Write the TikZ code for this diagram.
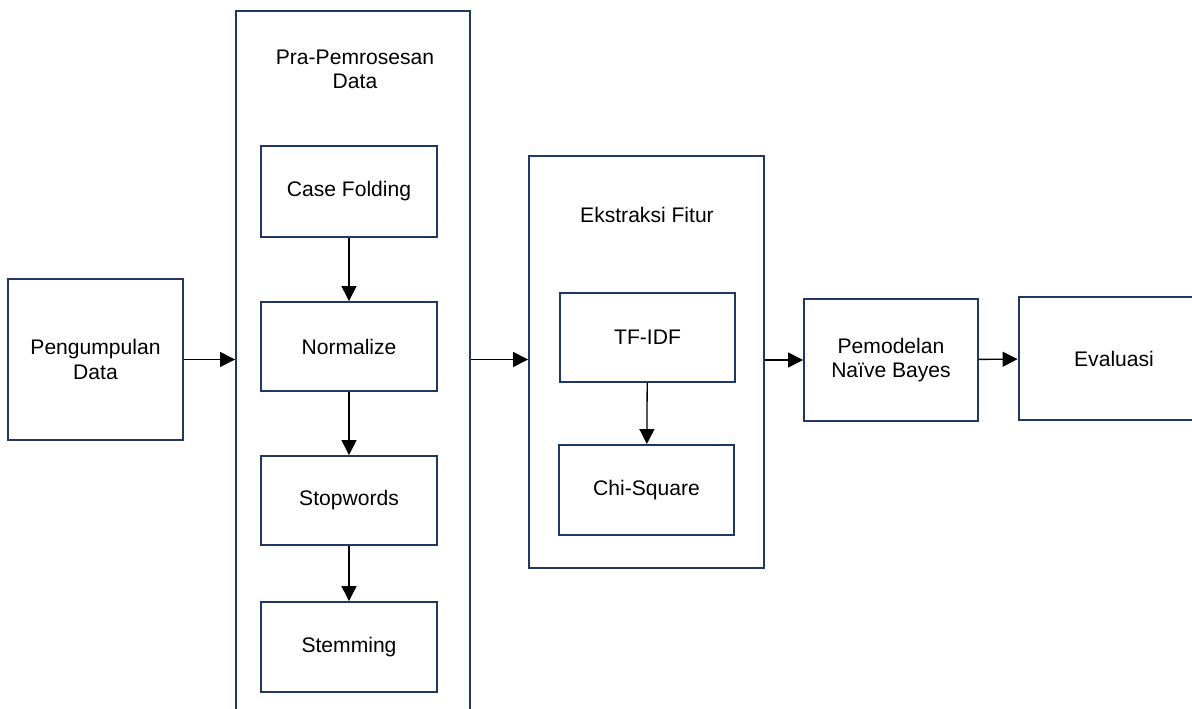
\documentclass[tikz,border=0pt]{standalone}
\usepackage{fontspec}
\setmainfont{Liberation Sans}
\usetikzlibrary{arrows.meta}

\definecolor{boxblue}{RGB}{32,56,100}

\tikzset{
  stepbox/.style={draw=boxblue, line width=1.1pt, fill=white, align=center,
    inner sep=0pt, font=\fontsize{12}{14}\selectfont},
  groupbox/.style={draw=boxblue, line width=1.1pt, inner sep=0pt},
  grouptitle/.style={align=center, font=\fontsize{12}{14}\selectfont},
  arrow/.style={line width=0.75pt, -{Triangle[length=0.3cm, width=0.3cm]}}
}

\begin{document}
\begin{tikzpicture}[x=0.02cm, y=-0.02cm]

        \useasboundingbox (0,0) rectangle (1192,709);
        \clip (0,0) rectangle (1192,709);

        %Pengumpulan data
        \node [stepbox, minimum width=3.5cm, minimum height=3.22cm] (pengumpulan) at (95.5,359.5) {Pengumpulan\\Data};

        %Pra-pemrosesan data
        \node [groupbox, minimum width=4.68cm, minimum height=14.58cm] (pra) at (353,375.5) {};
        \node [grouptitle] (pratitle) at (355,69.5) {Pra-Pemrosesan\\Data};
        \node [stepbox, minimum width=3.52cm, minimum height=1.82cm] (casefolding) at (349,191.5) {Case Folding};
        \node [stepbox, minimum width=3.52cm, minimum height=1.78cm] (normalize)   at (349,346.5) {Normalize};
        \node [stepbox, minimum width=3.52cm, minimum height=1.78cm] (stopwords)   at (349,500.5) {Stopwords};
        \node [stepbox, minimum width=3.52cm, minimum height=1.80cm] (stemming)    at (349,647)   {Stemming};
        \draw [arrow] (casefolding) -- (normalize);
        \draw [arrow] (normalize)   -- (stopwords);
        \draw [arrow] (stopwords)   -- (stemming);

        %Ekstraksi fitur
        \node [groupbox, minimum width=4.70cm, minimum height=8.24cm] (ekstraksi) at (646.5,362) {};
        \node [grouptitle] (ekstraksititle) at (647,215) {Ekstraksi Fitur};
        \node [stepbox, minimum width=3.50cm, minimum height=1.78cm] (tfidf)     at (647.5,337.5) {TF-IDF};
        \node [stepbox, minimum width=3.50cm, minimum height=1.80cm] (chisquare) at (646.5,490)   {Chi-Square};
        \draw [arrow] (tfidf) -- (chisquare);

        %Pemodelan dan evaluasi
        \node [stepbox, minimum width=3.48cm, minimum height=2.44cm] (pemodelan) at (891,360)    {Pemodelan\\Na\"ive Bayes};
        \node [stepbox, minimum width=3.82cm, minimum height=2.46cm] (evaluasi)  at (1114,358.5) {Evaluasi};

        %Alur utama
        \draw [arrow] (pengumpulan) -- (pengumpulan -| pra.west);
        \draw [arrow] (pra.east |- pengumpulan) -- (ekstraksi.west |- pengumpulan);
        \draw [arrow] (ekstraksi.east |- pemodelan) -- (pemodelan);
        \draw [arrow] (pemodelan) -- (evaluasi);

\end{tikzpicture}
\end{document}
